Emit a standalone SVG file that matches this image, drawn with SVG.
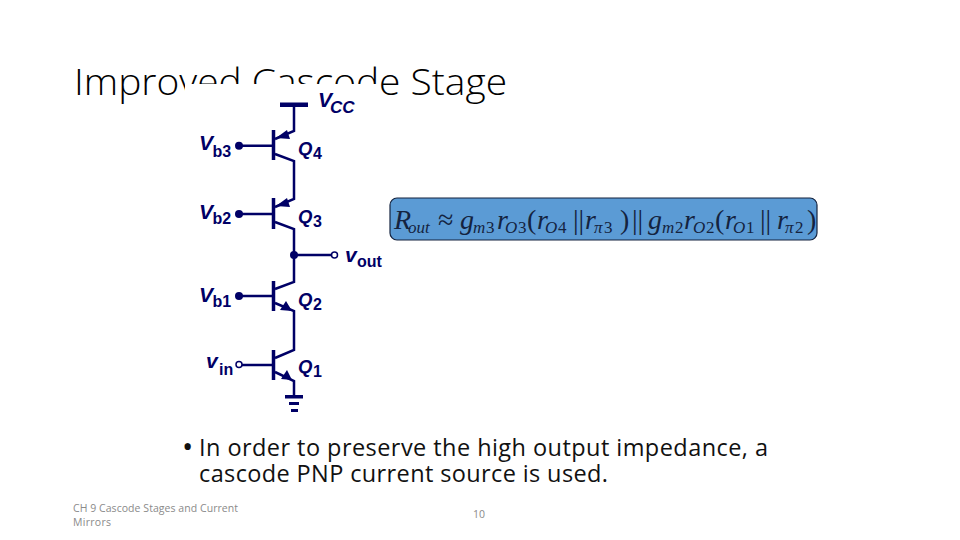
<svg xmlns="http://www.w3.org/2000/svg" width="960" height="540" viewBox="0 0 960 540">
<style>
.w{stroke:#000066;stroke-width:2.500;fill:none}
.p{stroke:#000066;stroke-width:3.500;fill:none}
.a{fill:#000066}
.o{fill:#fff;stroke:#000066;stroke-width:1.500}
.l{font-family:"Liberation Sans",Arial,sans-serif;font-weight:bold;font-style:italic;fill:#000066;font-size:21px}
.q{font-size:18.500px}
.s{font-style:normal;font-size:16px}
.e{font-family:"Liberation Serif","Times New Roman",serif;font-style:italic;font-size:28px;fill:#14233f}
.u{font-size:17px}
.n{font-style:normal}
.b{font-family:"Open Sans",Lato,sans-serif;font-size:23.500px;fill:#111}
.f{font-family:"Open Sans",Lato,sans-serif;font-size:10.500px;fill:#8a8a8a}
</style>
<rect width="960" height="540" fill="#fff"/>
<text id="title" x="74" y="95" font-family="'Open Sans',Lato,sans-serif" font-weight="300" font-size="37" fill="#000" textLength="433" lengthAdjust="spacingAndGlyphs">Improved Cascode Stage</text>
<rect x="185" y="84" width="195" height="330" fill="#fff"/>
<g id="connectors">
<path class="w" d="M294 105V131L275 139"/>
<path class="w" d="M240 145.700H273"/>
<path class="w" d="M275 154L294 161V199L275 207"/>
<path class="w" d="M240 214H273"/>
<path class="w" d="M275 222L294 229V282L275 289"/>
<path class="w" d="M294 255H331"/>
<path class="w" d="M240 296H273"/>
<path class="w" d="M275 303L294 311V350L275 358"/>
<path class="w" d="M242 365H273"/>
<path class="w" d="M275 372L294 381V397"/>
</g>
<g id="vcc"><rect class="a" x="280" y="102.500" width="28" height="4.500"/>
<text class="l" x="318" y="107">V</text><text class="l" x="330" y="113" style="font-size:17px">CC</text></g>
<g id="q4"><path class="p" d="M273.500 130V160"/><path class="a" d="M276 138L287 130L290 139Z"/>
<circle class="a" cx="239" cy="145.700" r="4"/>
<text class="l" x="199" y="150">V</text><text class="l s" x="212.500" y="157">b3</text>
<text class="l q" x="298" y="155">Q</text><text class="l s" x="313" y="158.500">4</text></g>
<g id="q3"><path class="p" d="M273.500 198V229"/><path class="a" d="M276 206L287 198L290 207Z"/>
<circle class="a" cx="239" cy="214" r="4"/>
<text class="l" x="199" y="219">V</text><text class="l s" x="212.500" y="224">b2</text>
<text class="l q" x="298" y="223">Q</text><text class="l s" x="313" y="226.500">3</text></g>
<g id="vout"><circle class="a" cx="294" cy="255" r="4"/><circle class="o" cx="334.500" cy="255" r="3"/>
<text class="l" x="345" y="262">v</text><text class="l s" x="357" y="266.500">out</text></g>
<g id="q2"><path class="p" d="M273.500 281V311"/><path class="a" d="M292 311L280 310L286 301Z"/>
<circle class="a" cx="239" cy="296" r="4"/>
<text class="l" x="199" y="302">V</text><text class="l s" x="212.500" y="306.500">b1</text>
<text class="l q" x="298" y="306">Q</text><text class="l s" x="313" y="309.500">2</text></g>
<g id="q1"><path class="p" d="M273.500 350V380"/><path class="a" d="M292 380L281 379L287 370Z"/>
<circle class="o" cx="239" cy="364.500" r="3"/>
<text class="l" x="206" y="368">v</text><text class="l s" x="219" y="375">in</text>
<text class="l q" x="298" y="372.500">Q</text><text class="l s" x="313" y="377">1</text></g>
<g id="ground"><rect class="a" x="285" y="395" width="18" height="3.500"/><rect class="a" x="289" y="402" width="10" height="3"/><rect class="a" x="291" y="409" width="7" height="3"/></g>
<g id="equation"><rect x="390" y="198" width="427" height="42" rx="7" fill="#5b9bd5" stroke="#14233f" stroke-width="1.200"/>
<text class="e" y="229"><tspan x="394">R</tspan><tspan class="n" x="438">≈</tspan><tspan x="460">g</tspan><tspan x="497">r</tspan><tspan class="n" x="527">(</tspan><tspan x="537">r</tspan><tspan class="n" x="573">||</tspan><tspan x="585">r</tspan><tspan class="n" x="620">)</tspan><tspan class="n" x="632">||</tspan><tspan x="648">g</tspan><tspan x="684">r</tspan><tspan class="n" x="715">(</tspan><tspan x="725">r</tspan><tspan class="n" x="760">||</tspan><tspan x="777">r</tspan><tspan class="n" x="807">)</tspan></text>
<text class="e u" y="233"><tspan x="408">out</tspan><tspan x="473">m</tspan><tspan class="n" x="486">3</tspan><tspan x="505">O</tspan><tspan class="n" x="518">3</tspan><tspan x="545">O</tspan><tspan class="n" x="558">4</tspan><tspan x="594">π</tspan><tspan class="n" x="604">3</tspan><tspan x="662">m</tspan><tspan class="n" x="675">2</tspan><tspan x="693">O</tspan><tspan class="n" x="706">2</tspan><tspan x="733">O</tspan><tspan class="n" x="746">1</tspan><tspan x="785">π</tspan><tspan class="n" x="795">2</tspan></text></g>
<g id="body"><text class="b" x="182" y="457" style="font-size:30px">•</text>
<text class="b" x="199" y="456" textLength="569">In order to preserve the high output impedance, a</text>
<text class="b" x="199" y="482" textLength="409">cascode PNP current source is used.</text></g>
<g id="footer"><text class="f" x="73" y="512" textLength="165">CH 9  Cascode Stages and Current</text>
<text class="f" x="73" y="526" textLength="38">Mirrors</text>
<text class="f" x="473" y="518">10</text></g>
</svg>
